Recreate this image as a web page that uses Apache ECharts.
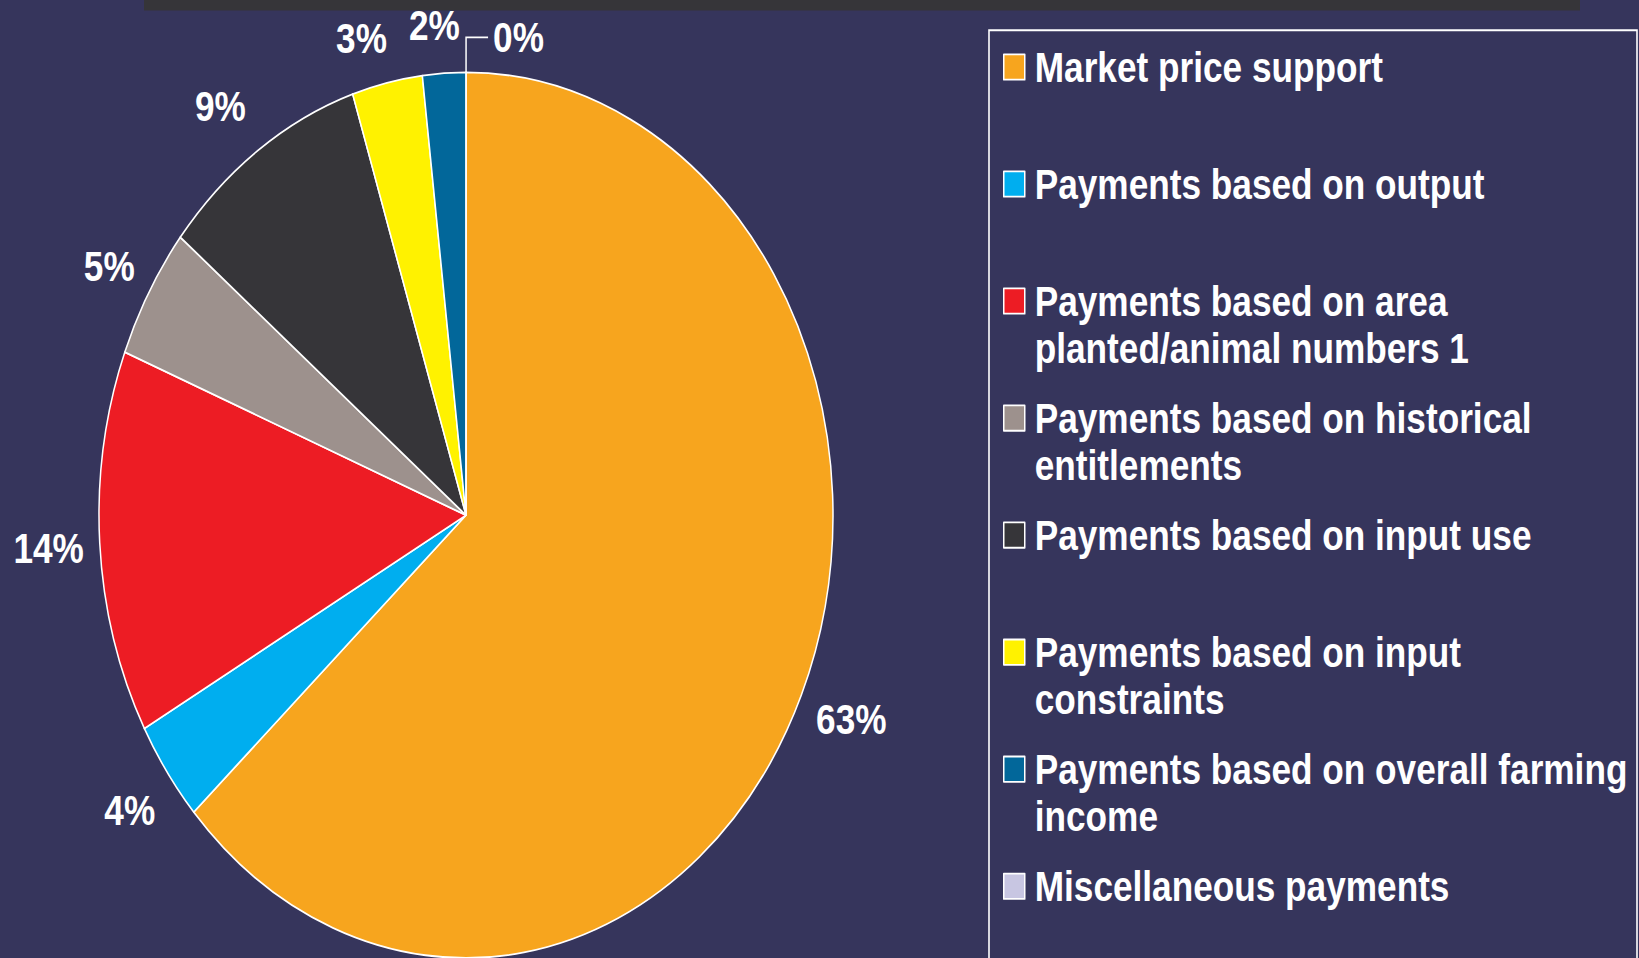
<!DOCTYPE html>
<html>
<head>
<meta charset="utf-8">
<title>Composition of support</title>
<script src="https://cdn.jsdelivr.net/npm/echarts@6/dist/echarts.min.js"></script>
<style>
  html { overflow: hidden; background: #36355c; }
  html, body { margin: 0; padding: 0; width: 1639px; height: 958px; }
  body { background: #36355c; }
  /* the original artwork is stretched vertically, so draw flat and stretch the whole chart */
  #main { width: 1639px; height: 794px; transform: scaleY(1.20655); transform-origin: 0 0; }
</style>
</head>
<body>
<div id="main"></div>
<script>
// categories, in legend order (\n = line break in the legend)
let categories = [
    'Market price support',
    'Payments based on output',
    'Payments based on area\nplanted/animal numbers 1',
    'Payments based on historical\nentitlements',
    'Payments based on input use',
    'Payments based on input\nconstraints',
    'Payments based on overall farming\nincome',
    'Miscellaneous payments'
];

// share of total support, %
let shares = [63.3, 3.7, 14.0, 4.8, 9.2, 3.1, 1.9, 0];

let colors = ['#f7a51e', '#00aeef', '#ed1c24', '#9d918d', '#363539', '#fff200', '#02679a', '#c8c6e2'];

// [length, length2] of the (mostly hidden) label lines, used to place each label
let labelLines = [[50, -36], [55, -38], [65, -54], [42, -27], [44, -18], [38, -13], [40, -23], [29, 22]];

let fontFamily = '"Liberation Sans", Arial, Helvetica, sans-serif';

let chartDom = document.getElementById('main');
let myChart = echarts.init(chartDom, null, { renderer: 'svg' });
let option;

let pieData = categories.map(function(name, i){
    return {
        name: name,
        value: shares[i],
        itemStyle: { color: colors[i] },
        labelLine: {
            show: shares[i] === 0,
            length: labelLines[i][0],
            length2: labelLines[i][1]
        }
    };
});

option = {
    backgroundColor: '#36355c',
    animation: false,
    graphic: [
        {
            type: 'rect',
            z: 0,
            shape: { x: 144, y: 0, width: 1436, height: 8.7 },
            style: { fill: '#363539' }
        },
        {
            type: 'rect',
            z: 0,
            shape: { x: 989, y: 25, width: 648, height: 800 },
            style: { fill: 'none', stroke: '#ffffff', lineWidth: 1.6 }
        }
    ],
    legend: {
        orient: 'vertical',
        left: 1003,
        top: -3,
        padding: 0,
        itemGap: -20,
        itemWidth: 21,
        itemHeight: 21,
        icon: 'rect',
        selectedMode: false,
        data: categories,
        itemStyle: { borderColor: '#ffffff', borderWidth: 1.5 },
        // extra empty lines keep the square next to the first line
        formatter: function(name){
            return '\n' + name + (name.indexOf('\n') === -1 ? '\n' : '');
        },
        textStyle: {
            color: '#ffffff',
            fontFamily: fontFamily,
            fontWeight: 'bold',
            fontSize: 35.2,
            lineHeight: 39,
            padding: [0, 0, 0, 5]
        }
    },
    series: [
        {
            type: 'pie',
            center: [466, 427],
            radius: 367,
            startAngle: 89.99,
            clockwise: true,
            avoidLabelOverlap: false,
            itemStyle: { borderColor: '#ffffff', borderWidth: 1.5 },
            label: {
                show: true,
                position: 'outside',
                distanceToLabelLine: 5,
                color: '#ffffff',
                fontFamily: fontFamily,
                fontWeight: 'bold',
                fontSize: 35.2,
                formatter: function(p){
                    return Math.round(p.value) + '%';
                }
            },
            labelLine: {
                lineStyle: { color: '#ffffff', width: 1.5 }
            },
            emphasis: { disabled: true },
            data: pieData
        }
    ]
};

option && myChart.setOption(option);
</script>
</body>
</html>
